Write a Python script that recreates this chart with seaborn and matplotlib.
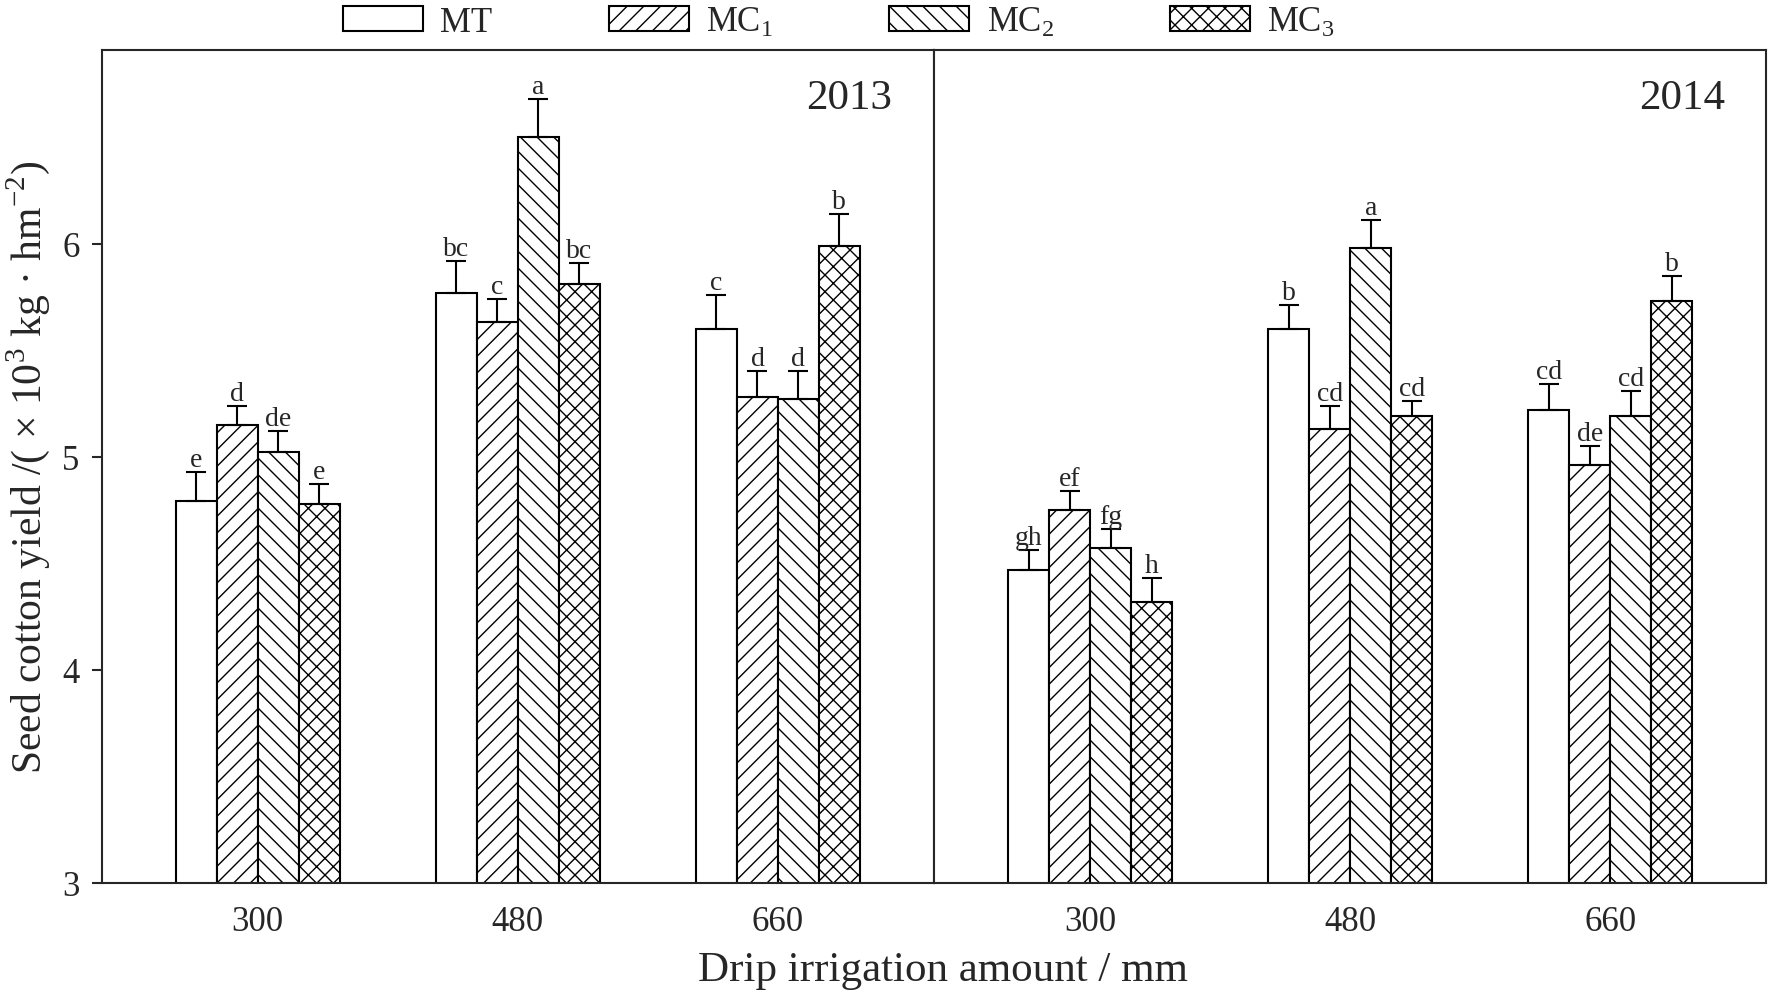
import pandas as pd
import seaborn as sns
import matplotlib.pyplot as plt

years = [2013, 2014]
amounts = ['300', '480', '660']
treatments = ['MT', 'MC1', 'MC2', 'MC3']
legend_labels = ['MT', r'$\mathregular{MC_1}$', r'$\mathregular{MC_2}$', r'$\mathregular{MC_3}$']

# 2013
mt_2013 = [4.79, 5.77, 5.60]
mc1_2013 = [5.15, 5.63, 5.28]
mc2_2013 = [5.02, 6.50, 5.27]
mc3_2013 = [4.78, 5.81, 5.99]
mt_err_2013 = [0.14, 0.15, 0.16]
mc1_err_2013 = [0.09, 0.11, 0.12]
mc2_err_2013 = [0.10, 0.18, 0.13]
mc3_err_2013 = [0.09, 0.10, 0.15]
mt_sig_2013 = ['e', 'bc', 'c']
mc1_sig_2013 = ['d', 'c', 'd']
mc2_sig_2013 = ['de', 'a', 'd']
mc3_sig_2013 = ['e', 'bc', 'b']

# 2014
mt_2014 = [4.47, 5.60, 5.22]
mc1_2014 = [4.75, 5.13, 4.96]
mc2_2014 = [4.57, 5.98, 5.19]
mc3_2014 = [4.32, 5.19, 5.73]
mt_err_2014 = [0.09, 0.11, 0.12]
mc1_err_2014 = [0.09, 0.11, 0.09]
mc2_err_2014 = [0.09, 0.13, 0.12]
mc3_err_2014 = [0.11, 0.07, 0.12]
mt_sig_2014 = ['gh', 'b', 'cd']
mc1_sig_2014 = ['ef', 'cd', 'de']
mc2_sig_2014 = ['fg', 'a', 'cd']
mc3_sig_2014 = ['h', 'cd', 'b']

values = {2013: [mt_2013, mc1_2013, mc2_2013, mc3_2013],
          2014: [mt_2014, mc1_2014, mc2_2014, mc3_2014]}
errors = {2013: [mt_err_2013, mc1_err_2013, mc2_err_2013, mc3_err_2013],
          2014: [mt_err_2014, mc1_err_2014, mc2_err_2014, mc3_err_2014]}
letters = {2013: [mt_sig_2013, mc1_sig_2013, mc2_sig_2013, mc3_sig_2013],
           2014: [mt_sig_2014, mc1_sig_2014, mc2_sig_2014, mc3_sig_2014]}

rows = []
for year in years:
    for tr, v, e, s in zip(treatments, values[year], errors[year], letters[year]):
        for a, vi, ei, si in zip(amounts, v, e, s):
            rows.append({'year': year, 'amount': a, 'treatment': tr,
                         'yield': vi, 'err': ei, 'sig': si})
df = pd.DataFrame(rows)

sns.set_style('ticks')
plt.rcParams['font.family'] = ['Liberation Serif', 'DejaVu Serif']
plt.rcParams['mathtext.fontset'] = 'custom'
plt.rcParams['mathtext.rm'] = 'Liberation Serif'
plt.rcParams['hatch.linewidth'] = 1.0
plt.rcParams['axes.linewidth'] = 1.5

hatches = ['', '//', '\\\\', 'xx']

fig, axes = plt.subplots(1, 2, figsize=(17.7, 9.95), dpi=100, sharey=True)
fig.subplots_adjust(left=0.0574, right=0.998, top=0.949, bottom=0.1117, wspace=0)

for ax, year in zip(axes, years):
    sub = df[df['year'] == year]
    sns.barplot(data=sub, x='amount', y='yield', hue='treatment',
                order=amounts, hue_order=treatments, palette=['white'] * 4,
                saturation=1, width=0.63, edgecolor='black', linewidth=1.5,
                errorbar=None, ax=ax)
    for cont, hatch, tr in zip(ax.containers, hatches, treatments):
        part = sub[sub['treatment'] == tr].set_index('amount').loc[amounts]
        xs = []
        for bar in cont:
            bar.set_hatch(hatch)
            xs.append(bar.get_x() + bar.get_width() / 2)
        ax.errorbar(xs, part['yield'], yerr=[[0] * len(xs), part['err']],
                    fmt='none', ecolor='black', elinewidth=1.5, capsize=7,
                    capthick=1.5, zorder=3)
        for x, y, e, s in zip(xs, part['yield'], part['err'], part['sig']):
            ax.annotate(s, (x, y + e), xytext=(0, 0), textcoords='offset points',
                        ha='center', va='bottom', fontsize=20)
    ax.get_legend().remove()
    ax.set_xlim(-0.6, 2.6)
    ax.set_ylim(3, 6.91)
    ax.set_xlabel('')
    ax.set_ylabel('')
    ax.tick_params(axis='x', length=0, pad=16, labelsize=25)
    ax.text(0.95, 0.942, str(year), transform=ax.transAxes, ha='right',
            va='center', fontsize=31)
    for sp in ax.spines.values():
        sp.set_linewidth(1.5)

axes[0].set_yticks([3, 4, 5, 6])
axes[0].tick_params(axis='y', direction='out', length=7, width=1.5, pad=9, labelsize=25)
axes[1].tick_params(axis='y', left=False, labelleft=False)

fig.text(0.016, 0.53, r'Seed cotton yield /( × 10$^\mathregular{3}$ kg · hm$^\mathregular{-2}$)',
         rotation=90, ha='center', va='center', fontsize=30)
fig.text(0.533, 0.024, 'Drip irrigation amount / mm', ha='center', va='center', fontsize=31)

handles = [c[0] for c in axes[0].containers]
fig.legend(handles, legend_labels, loc='upper center', bbox_to_anchor=(0.474, 0.997),
           ncol=4, frameon=False, fontsize=25, handlelength=2.3, handleheight=0.7,
           handletextpad=0.5, columnspacing=3.35, borderaxespad=0, borderpad=0.1)

plt.savefig('out.png')
